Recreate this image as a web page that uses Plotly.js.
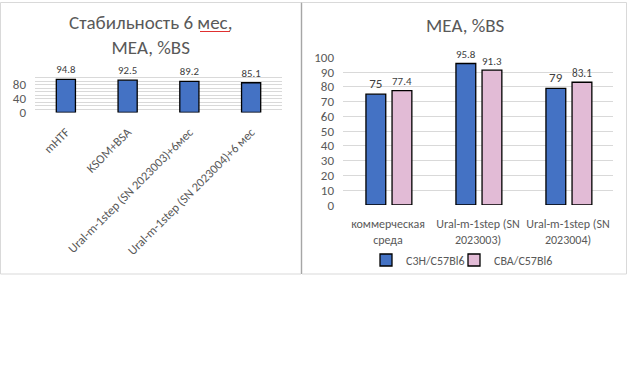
<!DOCTYPE html>
<html><head><meta charset="utf-8">
<script src="https://cdn.plot.ly/plotly-3.0.1.min.js"></script>
<style>body{margin:0;background:#fff}#c{width:628px;height:385px}</style>
</head><body><div id="c"></div>
<script>
const stabCategories = ['mHTF', 'KSOM+BSA', 'Ural-m-1step (SN 2023003)+6мес', 'Ural-m-1step (SN 2023004)+6 мес'];
const stabValues = [94.8, 92.5, 89.2, 85.1];
const meaCategories = ['коммерческая<br>среда', 'Ural-m-1step (SN<br>2023003)', 'Ural-m-1step (SN<br>2023004)'];
const c3hValues = [75, 95.8, 79];
const cbaValues = [77.4, 91.3, 83.1];
const seriesNames = ['C3H/C57Bl6', 'CBA/C57Bl6'];
const stabTitle = 'Стабильность 6 мес,<br>МЕА, %BS';
const meaTitle = 'МЕА, %BS';

const W = 628, H = 385;
const px = v => v / W;
const py = v => 1 - v / H;
const FONT = 'Calibri, Carlito, Lato, sans-serif';
const BLUE = '#4472C4', PINK = '#E2BBD6';

const traces = [
  {type: 'bar', x: stabCategories, y: stabValues, xaxis: 'x', yaxis: 'y',
   width: 0.31, marker: {color: BLUE, line: {color: '#000', width: 1.3}},
   text: stabValues.map(v => v.toFixed(1)), textposition: 'outside', cliponaxis: false,
   textfont: {family: FONT, size: 14, color: '#404040'}, showlegend: false, hoverinfo: 'skip'},
  {type: 'bar', x: meaCategories, y: c3hValues, xaxis: 'x2', yaxis: 'y2', name: seriesNames[0],
   legend: 'legend',
   width: 0.22, offset: -0.245, marker: {color: BLUE, line: {color: '#000', width: 1.3}},
   text: c3hValues.map(String), textposition: 'outside', cliponaxis: false,
   textfont: {family: FONT, size: 13, color: '#404040'}, hoverinfo: 'skip'},
  {type: 'bar', x: meaCategories, y: cbaValues, xaxis: 'x2', yaxis: 'y2', name: seriesNames[1],
   legend: 'legend2',
   width: 0.22, offset: 0.045, marker: {color: PINK, line: {color: '#000', width: 1.3}},
   text: cbaValues.map(String), textposition: 'outside', cliponaxis: false,
   textfont: {family: FONT, size: 13, color: '#404040'}, hoverinfo: 'skip'}
];

const legendBase = {orientation: 'h', xanchor: 'left', y: py(260), yanchor: 'middle',
  font: {size: 12, color: '#595959'}, itemwidth: 30, bgcolor: 'rgba(0,0,0,0)'};

const layout = {
  width: W, height: H,
  margin: {l: 0, r: 0, t: 0, b: 0},
  paper_bgcolor: '#fff', plot_bgcolor: 'rgba(0,0,0,0)',
  font: {family: FONT, color: '#595959'},
  barmode: 'group',
  xaxis: {domain: [px(35), px(282)], anchor: 'y', automargin: false, tickangle: -45,
          tickfont: {size: 12.5, color: '#595959'}, showgrid: false, zeroline: false,
          showline: false, ticks: '', ticklabelstandoff: 9, fixedrange: true},
  yaxis: {domain: [py(112.5), py(74)], anchor: 'x', range: [0, 110.05], automargin: false,
          tickvals: [0, 40, 80], tickfont: {size: 13, color: '#595959'},
          showgrid: true, gridcolor: '#d9d9d9', gridwidth: 1, zeroline: false,
          minor: {dtick: 10, tick0: 0, showgrid: true, gridcolor: '#d9d9d9', gridwidth: 1},
          showline: false, ticklabelstandoff: 8},
  xaxis2: {domain: [px(343), px(613)], anchor: 'y2', automargin: false, tickangle: 0,
           tickfont: {size: 12, color: '#595959'}, showgrid: false, zeroline: false,
           showline: false, ticks: '', ticklabelstandoff: 10},
  yaxis2: {domain: [py(205), py(57)], anchor: 'x2', range: [0, 100.2], automargin: false,
           dtick: 10, tickfont: {size: 13, color: '#595959'},
           showgrid: true, gridcolor: '#d9d9d9', gridwidth: 1, zeroline: false,
           showline: false, ticklabelstandoff: 8},
  legend: Object.assign({}, legendBase, {x: px(366)}),
  legend2: Object.assign({}, legendBase, {x: px(454)}),
  annotations: [
    {text: stabTitle, xref: 'paper', yref: 'paper', x: px(150.5), y: py(35.5),
     xanchor: 'center', yanchor: 'middle', showarrow: false,
     font: {family: FONT, size: 19, color: '#595959'}},
    {text: meaTitle, xref: 'paper', yref: 'paper', x: px(466), y: py(25),
     xanchor: 'center', yanchor: 'middle', showarrow: false,
     font: {family: FONT, size: 19, color: '#595959'}}
  ],
  shapes: [
    {type: 'rect', xref: 'paper', yref: 'paper', x0: px(0.5), x1: px(301), y0: py(274), y1: py(2.5),
     line: {color: '#d9d9d9', width: 1}},
    {type: 'rect', xref: 'paper', yref: 'paper', x0: px(302), x1: px(626.5), y0: py(274), y1: py(2.5),
     line: {color: '#d9d9d9', width: 1}},
    {type: 'line', xref: 'paper', yref: 'paper', x0: px(301.5), x1: px(301.5), y0: py(274), y1: py(2.5),
     line: {color: '#a6a6a6', width: 1}},
    {type: 'line', xref: 'paper', yref: 'paper', x0: px(200), x1: px(230), y0: py(31.5), y1: py(31.5),
     line: {color: '#e03030', width: 1}}
  ]
};

Plotly.newPlot('c', traces, layout, {staticPlot: true, displayModeBar: false});
</script></body></html>
